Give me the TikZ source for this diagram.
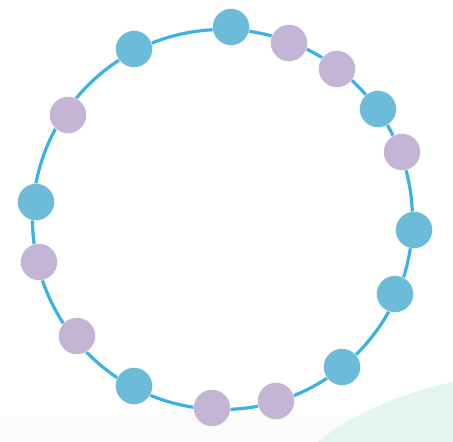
\documentclass[tikz,border=0pt]{standalone}
\usetikzlibrary{positioning}

\definecolor{ringblue}{RGB}{59,178,228}
\definecolor{beadblue}{RGB}{108,187,217}
\definecolor{beadpurple}{RGB}{196,180,214}
\definecolor{mint}{RGB}{226,245,238}
\definecolor{floorgray}{RGB}{251,251,251}

\tikzset{every picture/.style={line width=0.75pt}}
\tikzset{
  bead/.style={circle, minimum size=37pt, inner sep=0pt, draw=white, line width=0.4pt},
  bluebead/.style={bead, fill=beadblue},
  purplebead/.style={bead, fill=beadpurple}
}

\begin{document}
\begin{tikzpicture}[x=1pt,y=1pt,yscale=-1,xscale=1]
\useasboundingbox (0,0) rectangle (453,442);

%Background strip
\fill[floorgray] (0,417) rectangle (453,442);
%Shape: mint blob
\fill[mint] (318,442) .. controls (355,412) and (405,392) .. (453,382) -- (453,442) -- cycle;

%Shape: Ring
\coordinate (ctr) at (222.5,219.5);
\draw[ringblue, line width=3.2pt] (ctr) circle (190);

%Blue beads
\node[bluebead] (top) at (231,27) {};
\node[bluebead] (topleft) at (134,49) {};
\node[bluebead] (upright) at (378,109) {};
\node[bluebead] (right) at (414,230) {};
\node[bluebead] (lowright) at (395,294) {};
\node[bluebead] (botright) at (342,367) {};
\node[bluebead] (botleft) at (134,386) {};
\node[bluebead] (left) at (36,202) {};

%Purple beads
\node[purplebead] (ptopa) at (289,43) {};
\node[purplebead] (ptopb) at (337,69) {};
\node[purplebead] (pright) at (402,152) {};
\node[purplebead] (pbota) at (276,401) {};
\node[purplebead] (pbotb) at (212,408) {};
\node[purplebead] (plowleft) at (77,336) {};
\node[purplebead] (pleft) at (39,262) {};
\node[purplebead] (pupleft) at (68,115) {};

\end{tikzpicture}
\end{document}
